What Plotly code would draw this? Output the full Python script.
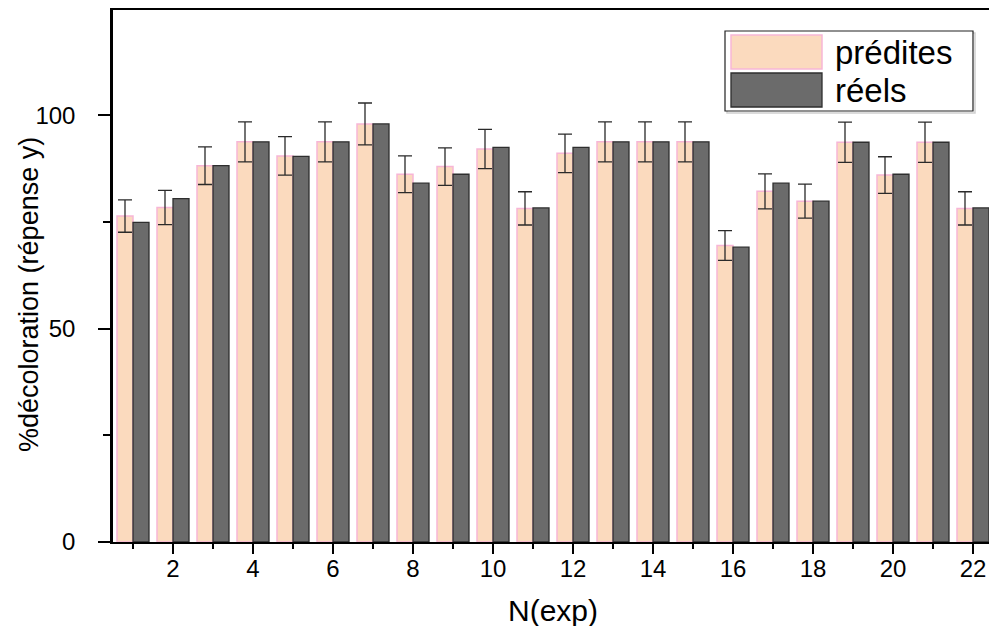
import plotly.graph_objects as go

# Experiment numbers and responses (% decolouration)
n_exp = list(range(1, 23))
predites = [76.4, 78.4, 88.2, 93.8, 90.5, 93.8, 98.0, 86.2, 88.0, 92.1, 78.2,
            91.1, 93.8, 93.8, 93.8, 69.5, 82.2, 79.9, 93.7, 86.0, 93.7, 78.2]
reels = [74.9, 80.5, 88.2, 93.8, 90.4, 93.8, 98.0, 84.1, 86.2, 92.5, 78.3,
         92.5, 93.8, 93.8, 93.8, 69.1, 84.1, 79.9, 93.7, 86.2, 93.7, 78.3]
erreur = [3.8, 4.0, 4.4, 4.7, 4.5, 4.7, 4.9, 4.3, 4.4, 4.6, 3.9,
          4.5, 4.7, 4.7, 4.7, 3.5, 4.1, 4.0, 4.7, 4.3, 4.7, 3.9]

x_ticks = list(range(2, 23, 2))
y_ticks = [0, 50, 100]

W, H = 989, 626
ML, MR, MT, MB = 113, 0, 10, 84
FONT = "Liberation Sans, Arial, sans-serif"

PEACH = "#FBDABE"
PEACH_EDGE = "#F7B6D6"
GREY = "#6B6B6B"
GREY_EDGE = "#2E2E2E"


def px_x(p):
    return (p - ML) / (W - ML - MR)


def px_y(p):
    return (H - MB - p) / (H - MT - MB)


fig = go.Figure()
fig.add_trace(go.Bar(
    x=n_exp, y=predites, name="prédites",
    marker=dict(color=PEACH, line=dict(color=PEACH_EDGE, width=1.5)),
    error_y=dict(type="data", array=erreur, visible=True,
                 color="#2a2a2a", thickness=1.3, width=7),
))
fig.add_trace(go.Bar(
    x=n_exp, y=reels, name="réels",
    marker=dict(color=GREY, line=dict(color=GREY_EDGE, width=1.3)),
))

# Legend box drawn by hand so the swatches can be large
shapes = [
    dict(type="rect", xref="paper", yref="paper",
         x0=px_x(727), x1=px_x(975), y0=px_y(113), y1=px_y(33),
         line=dict(color="#d0d0d0", width=1.5), fillcolor="rgba(0,0,0,0)"),
    dict(type="rect", xref="paper", yref="paper",
         x0=px_x(725), x1=px_x(973), y0=px_y(111), y1=px_y(31),
         line=dict(color="#222222", width=1.2), fillcolor="white"),
    dict(type="rect", xref="paper", yref="paper",
         x0=px_x(731), x1=px_x(822), y0=px_y(69), y1=px_y(35),
         line=dict(color=PEACH_EDGE, width=1.5), fillcolor=PEACH),
    dict(type="rect", xref="paper", yref="paper",
         x0=px_x(731), x1=px_x(822), y0=px_y(107), y1=px_y(73),
         line=dict(color=GREY_EDGE, width=1.3), fillcolor=GREY),
]

annotations = [
    dict(text="prédites", xref="paper", yref="paper", x=px_x(833), y=px_y(52),
         xanchor="left", yanchor="middle", showarrow=False,
         font=dict(family=FONT, size=33, color="black")),
    dict(text="réels", xref="paper", yref="paper", x=px_x(833), y=px_y(90),
         xanchor="left", yanchor="middle", showarrow=False,
         font=dict(family=FONT, size=33, color="black")),
    dict(text="%décoloration (répense y)", xref="paper", yref="paper",
         x=px_x(29), y=px_y(295), xanchor="center", yanchor="middle",
         textangle=-90, showarrow=False,
         font=dict(family=FONT, size=27, color="black")),
    dict(text="N(exp)", xref="paper", yref="paper",
         x=px_x(553), y=px_y(610), xanchor="center", yanchor="middle",
         showarrow=False, font=dict(family=FONT, size=30, color="black")),
]

fig.update_layout(
    width=W, height=H,
    margin=dict(l=ML, r=MR, t=MT, b=MB, pad=0),
    paper_bgcolor="white", plot_bgcolor="white",
    barmode="group", bargap=0.2, bargroupgap=0.0,
    showlegend=False,
    shapes=shapes, annotations=annotations,
    font=dict(family=FONT, color="black"),
)

fig.update_xaxes(
    range=[0.5, 0.5 + (W - ML - MR) / 40.0],
    tickmode="array", tickvals=x_ticks, ticktext=[str(v) for v in x_ticks],
    ticks="outside", ticklen=10, tickwidth=2, tickcolor="black",
    ticklabelstandoff=-6,
    minor=dict(dtick=1, tick0=1, ticks="outside", ticklen=5, tickwidth=2,
               tickcolor="black"),
    showline=True, linewidth=2, linecolor="black", mirror=True,
    showgrid=False, zeroline=False,
    tickfont=dict(family=FONT, size=24, color="black"),
    automargin=False,
)
fig.update_yaxes(
    range=[0, 124.7],
    tickmode="array", tickvals=y_ticks, ticktext=[str(v) for v in y_ticks],
    ticks="outside", ticklen=12, tickwidth=2, tickcolor="black",
    ticklabelstandoff=18,
    minor=dict(dtick=25, tick0=0, ticks="outside", ticklen=7, tickwidth=2,
               tickcolor="black"),
    showline=True, linewidth=2.5, linecolor="black", mirror=False,
    showgrid=False, zeroline=False,
    tickfont=dict(family=FONT, size=24, color="black"),
    automargin=False,
)

fig.write_html("out.html")
